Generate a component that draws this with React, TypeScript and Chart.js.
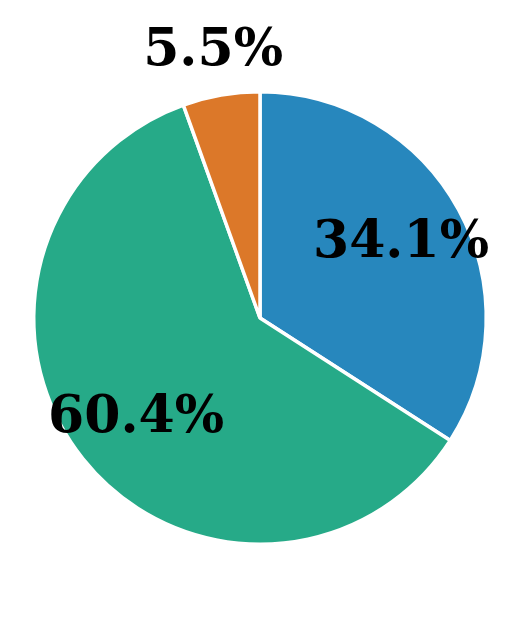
import React, { useEffect, useRef } from "react";
import { Chart, registerables } from "chart.js";

Chart.register(...registerables);

const categories = ["A", "B", "C"];
const values = [34.1, 60.4, 5.5];
const colors = ["#2787bd", "#26aa88", "#dc7829"];
const labelRadiusFactor = [0.71, 0.7, 1.205];

const labelPlugin = {
  id: "pctLabels",
  afterDatasetsDraw(chart: any) {
    const ctx = chart.ctx;
    const meta = chart.getDatasetMeta(0);
    const total = values.reduce((a, b) => a + b, 0);
    ctx.save();
    ctx.font = "bold 52px 'DejaVu Serif'";
    ctx.fillStyle = "#000";
    ctx.textAlign = "center";
    ctx.textBaseline = "middle";
    meta.data.forEach((arc: any, i: number) => {
      const p = arc.getProps(["x", "y", "startAngle", "endAngle", "outerRadius"], true);
      const mid = (p.startAngle + p.endAngle) / 2;
      const r = p.outerRadius * labelRadiusFactor[i];
      const x = p.x + Math.cos(mid) * r;
      const y = p.y + Math.sin(mid) * r + 2;
      ctx.fillText(((values[i] / total) * 100).toFixed(1) + "%", x, y);
    });
    ctx.restore();
  },
};

export default function App() {
  const ref = useRef<HTMLCanvasElement>(null);
  useEffect(() => {
    if (!ref.current) return;
    const chart = new Chart(ref.current, {
      type: "pie",
      data: {
        labels: categories,
        datasets: [
          {
            data: values,
            backgroundColor: colors,
            borderColor: "#ffffff",
            borderWidth: 3.5,
          },
        ],
      },
      options: {
        responsive: false,
        animation: false,
        layout: { padding: { left: 32, right: 31, top: 90, bottom: 90 } },
        plugins: {
          legend: { display: false },
          tooltip: { enabled: false },
        },
      },
      plugins: [labelPlugin],
    });
    return () => chart.destroy();
  }, []);
  return (
    <div style={{ position: "fixed", left: 0, top: 0, width: 519, height: 636, background: "#fff" }}>
      <canvas ref={ref} width={519} height={636} style={{ width: 519, height: 636 }} />
    </div>
  );
}
